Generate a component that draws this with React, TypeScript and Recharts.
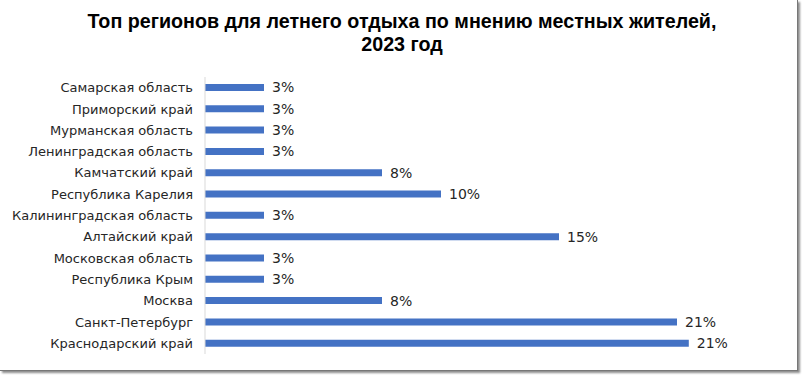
import { BarChart, Bar, XAxis, YAxis, LabelList } from 'recharts'

const regions = [
  'Самарская область',
  'Приморский край',
  'Мурманская область',
  'Ленинградская область',
  'Камчатский край',
  'Республика Карелия',
  'Калининградская область',
  'Алтайский край',
  'Московская область',
  'Республика Крым',
  'Москва',
  'Санкт-Петербург',
  'Краснодарский край',
]

// bar lengths (share, %)
const shares = [2.5, 2.5, 2.5, 2.5, 7.5, 10, 2.5, 15, 2.5, 2.5, 7.5, 20, 20.5]

// labels as printed on the chart
const shareLabels = ['3%', '3%', '3%', '3%', '8%', '10%', '3%', '15%', '3%', '3%', '8%', '21%', '21%']

const data = regions.map((name, i) => ({ name, share: shares[i], label: shareLabels[i] }))

const textFont = '"DejaVu Sans", Verdana, sans-serif'

export default function App() {
  return (
    <div style={{ position: 'fixed', top: 0, left: 0, width: 804, height: 376, background: '#fff' }}>
      {/* frame with a little shadow, like the pasted screenshot */}
      <div
        style={{
          position: 'absolute',
          top: 0,
          left: 0,
          width: 797,
          height: 370,
          borderRight: '1px solid #777',
          borderBottom: '1px solid #777',
          boxShadow: '2px 2px 2px rgba(0,0,0,0.45)',
          background: '#fff',
        }}
      />
      <div
        style={{
          position: 'absolute',
          top: 10,
          left: 0,
          width: 804,
          textAlign: 'center',
          fontFamily: '"Liberation Sans Narrow", "Liberation Sans", Arial, sans-serif',
          fontWeight: 'bold',
          fontSize: 19.7,
          lineHeight: '23px',
          color: '#000',
        }}
      >
        Топ регионов для летнего отдыха по мнению местных жителей,
        <br />
        2023 год
      </div>
      <div style={{ position: 'absolute', top: 0, left: 0 }}>
        <BarChart
          width={804}
          height={376}
          data={data}
          layout="vertical"
          margin={{ top: 77, right: 9, bottom: 22, left: 0 }}
        >
          <XAxis type="number" domain={[0, 25]} hide />
          <YAxis
            type="category"
            dataKey="name"
            width={205}
            tickLine={false}
            tickMargin={6}
            axisLine={{ stroke: '#d9d9d9' }}
            interval={0}
            tick={{ fill: '#262626', fontSize: 13, fontFamily: textFont }}
          />
          <Bar dataKey="share" fill="#4472c4" barSize={7} isAnimationActive={false}>
            <LabelList
              dataKey="label"
              position="right"
              offset={8}
              style={{ fill: '#262626', fontSize: 14, fontFamily: textFont }}
            />
          </Bar>
        </BarChart>
      </div>
    </div>
  )
}
